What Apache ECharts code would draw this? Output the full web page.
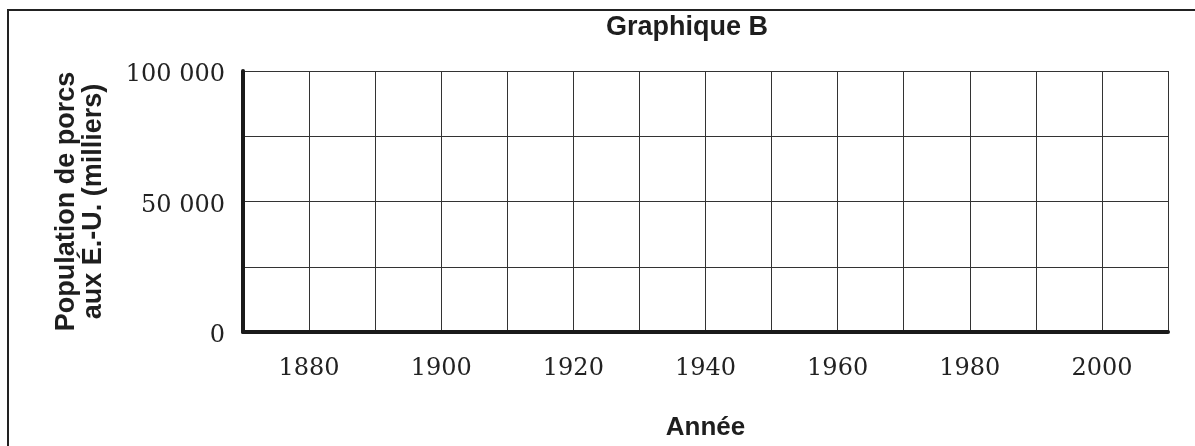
<!DOCTYPE html>
<html>
<head>
<meta charset="utf-8">
<script src="https://cdn.jsdelivr.net/npm/echarts@6/dist/echarts.min.js"></script>
<style>
  html, body { margin: 0; padding: 0; background: #fff; }
  #chart { width: 1195px; height: 446px; }
</style>
</head>
<body>
<div id="chart"></div>
<script>
// blank worksheet grid: no data plotted yet
const years = []
const pigPopulation = []
const xTickLabels = [1880, 1900, 1920, 1940, 1960, 1980, 2000]
const yTickLabels = [0, 50000, 100000]

const chart = echarts.init(document.getElementById('chart'))

const serif = 'DejaVu Serif'
const sans = 'Liberation Sans'

function spaced(v) {
  return String(v).replace(/\B(?=(\d{3})+(?!\d))/g, ' ')
}

const option = {
  animation: false,
  title: {
    text: 'Graphique B',
    left: 682,
    top: 9,
    textAlign: 'center',
    textStyle: { fontFamily: sans, fontWeight: 'bold', fontSize: 27, color: '#1e1e1e' },
  },
  graphic: [
    {
      type: 'polyline',
      shape: { points: [[8, 446], [8, 10], [1195, 10]] },
      style: { stroke: '#222', lineWidth: 2, fill: null },
    },
  ],
  grid: { left: 243, right: 27, top: 71, bottom: 112 },
  xAxis: {
    type: 'value',
    min: 1870,
    max: 2010,
    interval: 10,
    name: 'Année',
    nameLocation: 'middle',
    nameGap: 83,
    nameTextStyle: { fontFamily: sans, fontWeight: 'bold', fontSize: 26, color: '#1e1e1e' },
    axisLine: { show: true, lineStyle: { color: '#1a1a1a', width: 4 } },
    axisTick: { show: false },
    splitLine: { show: true, lineStyle: { color: '#333', width: 1 } },
    axisLabel: {
      fontFamily: serif,
      fontSize: 24,
      color: '#222',
      margin: 25,
      formatter: (v) => (xTickLabels.includes(v) ? String(v) : ''),
    },
  },
  yAxis: {
    type: 'value',
    min: 0,
    max: 100000,
    interval: 25000,
    name: 'Population de porcs\naux É.-U. (milliers)',
    nameLocation: 'middle',
    nameGap: 136,
    nameTextStyle: { fontFamily: sans, fontWeight: 'bold', fontSize: 27, lineHeight: 27, color: '#1e1e1e' },
    axisLine: { show: true, lineStyle: { color: '#1a1a1a', width: 4 } },
    axisTick: { show: false },
    splitLine: { show: true, lineStyle: { color: '#333', width: 1 } },
    axisLabel: {
      fontFamily: serif,
      fontSize: 24,
      color: '#222',
      margin: 18,
      verticalAlign: 'top',
      lineHeight: 8,
      formatter: (v) => (yTickLabels.includes(v) ? spaced(v) : ''),
    },
  },
  series: [
    {
      name: 'Population de porcs',
      type: 'line',
      data: years.map((y, i) => [y, pigPopulation[i]]),
    },
  ],
}

chart.setOption(option)
</script>
</body>
</html>
